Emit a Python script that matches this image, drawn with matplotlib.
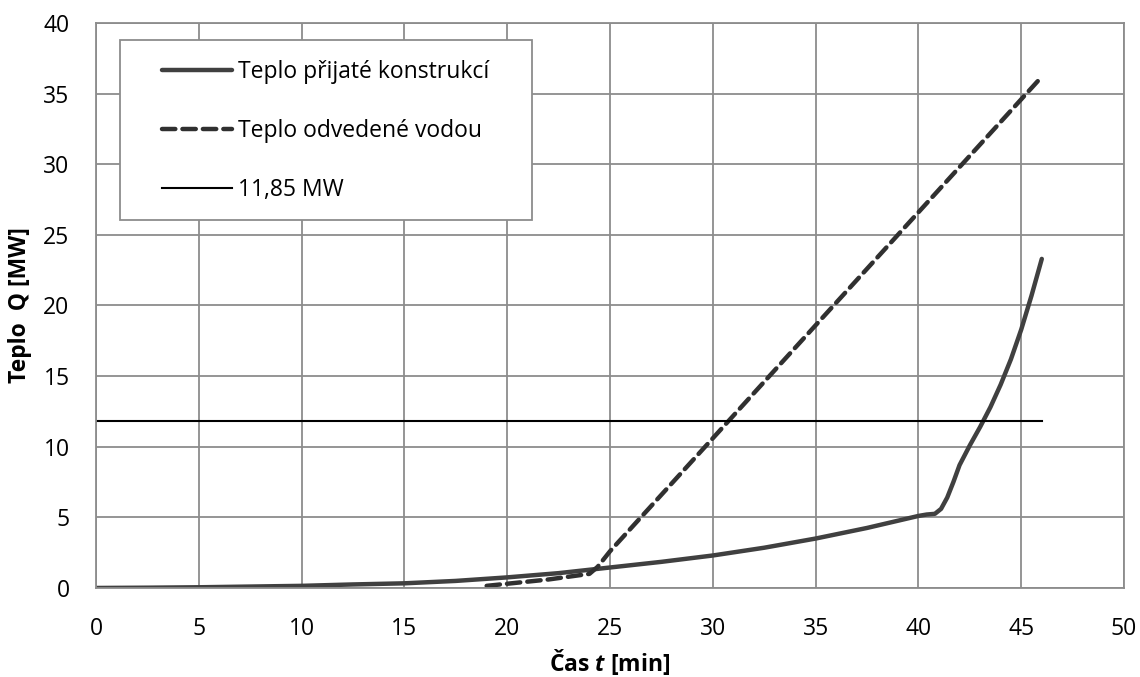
import matplotlib.pyplot as plt
from matplotlib.patches import Rectangle

plt.rcParams['font.family'] = ['Open Sans', 'DejaVu Sans']
plt.rcParams['mathtext.fontset'] = 'custom'
plt.rcParams['mathtext.it'] = 'Open Sans:italic:bold'

# teplo prijate konstrukci [MW]
cas_konstr = [0, 2.5, 5, 7.5, 10, 12.5, 15, 17.5, 20, 22.5, 25, 27.5, 30, 32.5, 35, 37.5,
              40, 40.4, 40.8, 41.1, 41.4, 41.7, 42, 42.5, 43, 43.5, 44, 44.5, 45, 45.5, 46]
q_konstr = [0, 0.02, 0.05, 0.1, 0.15, 0.25, 0.33, 0.5, 0.75, 1.05, 1.45, 1.85, 2.3, 2.85, 3.5, 4.25,
            5.1, 5.2, 5.25, 5.6, 6.4, 7.5, 8.7, 10.1, 11.4, 12.8, 14.4, 16.2, 18.3, 20.7, 23.3]

# teplo odvedene vodou [MW]
cas_voda = [19, 20, 21, 22, 23, 24, 24.4, 25, 30, 35, 40, 46]
q_voda = [0.15, 0.3, 0.45, 0.6, 0.8, 1.0, 1.5, 2.6, 10.6, 18.6, 26.6, 36.2]

# mezni hodnota
q_mez = 11.85
cas_mez = [0, 46]

fs = 16.5
sede = '#8c8c8c'

fig = plt.figure(figsize=(11.4, 6.77), dpi=100)
ax = fig.add_axes([0.0842, 0.1315, 0.9018, 0.8345])

ax.plot(cas_konstr, q_konstr, color='#404040', lw=3.2, solid_capstyle='round',
        solid_joinstyle='round', label='Teplo přijaté konstrukcí')
ax.plot(cas_voda, q_voda, color='#303030', lw=3.2, ls=(0, (3, 1.6)), dash_capstyle='round',
        label='Teplo odvedené vodou')
ax.plot(cas_mez, [q_mez, q_mez], color='black', lw=1.5, label='11,85 MW')

ax.set_xlim(0, 50)
ax.set_ylim(0, 40)
ax.set_xticks(range(0, 51, 5))
ax.set_yticks(range(0, 41, 5))
ax.grid(True, color=sede, lw=1.3)
ax.set_axisbelow(True)
for s in ax.spines.values():
    s.set_color(sede)
    s.set_linewidth(1.3)
ax.tick_params(axis='x', length=0, labelsize=fs, pad=21)
ax.tick_params(axis='y', length=0, labelsize=fs, pad=19)

ax.set_xlabel('Čas $t$ [min]', fontsize=fs, fontweight='bold', labelpad=4)
ax.set_ylabel('Teplo  Q [MW]', fontsize=fs, fontweight='bold', labelpad=8)

# ramecek legendy
ax.add_patch(Rectangle((0.0233, 0.651), 0.4008, 0.319, transform=ax.transAxes,
                       facecolor='white', edgecolor=sede, lw=1.3, zorder=5))
leg = ax.legend(loc='upper left', bbox_to_anchor=(0.0642, 0.934), fontsize=fs,
                handlelength=3.05, handletextpad=0.26, labelspacing=1.52, borderpad=0,
                borderaxespad=0, frameon=False)
leg.set_zorder(6)

fig.savefig('out.png', dpi=100)
